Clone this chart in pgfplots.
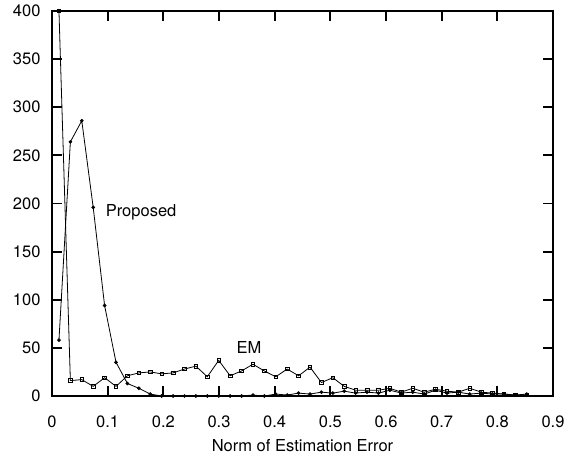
\documentclass[border=0pt]{standalone}
\usepackage{fontspec}
\setmainfont{TeX Gyre Heros}
\usepackage{pgfplots}
\pgfplotsset{compat=1.18}
\usepackage{pgfplotstable}

% histogram of estimation error norms, bins ~0.0205 wide
\pgfplotstableread{
x       y
0.0125  58
0.0330  264
0.0535  286
0.0740  196
0.0945  94
0.1150  35
0.1355  13
0.1560  8
0.1765  2
0.1970  0
0.2175  0
0.2380  0
0.2585  0
0.2790  0
0.2995  0
0.3200  0
0.3405  0
0.3610  1
0.3815  0
0.4020  2
0.4225  1
0.4430  3
0.4635  2
0.4840  4
0.5045  3
0.5250  5
0.5455  3
0.5660  4
0.5865  3
0.6070  6
0.6275  3
0.6480  4
0.6685  2
0.6890  6
0.7095  3
0.7300  4
0.7505  2
0.7710  3
0.7915  2
0.8120  2
0.8325  1
0.8530  2
}\proposed

\pgfplotstableread{
x       y
0.0125  400
0.0330  16
0.0535  17
0.0740  10
0.0945  19
0.1150  10
0.1355  21
0.1560  24
0.1765  25
0.1970  23
0.2175  24
0.2380  28
0.2585  31
0.2790  20
0.2995  37
0.3200  21
0.3405  26
0.3610  33
0.3815  26
0.4020  20
0.4225  28
0.4430  21
0.4635  30
0.4840  14
0.5045  19
0.5250  10
0.5455  6
0.5660  6
0.5865  6
0.6070  8
0.6275  4
0.6480  8
0.6685  4
0.6890  7
0.7095  5
0.7300  4
0.7505  8
0.7710  4
0.7915  3
0.8120  2
0.8325  1
0.8530  1
}\em

\begin{document}
\begin{tikzpicture}
\begin{axis}[
  name=ax,
  scale only axis,
  width=501pt, height=385pt,
  xmin=0, xmax=0.9, ymin=0, ymax=400,
  xtick={0,0.1,...,0.9},
  ytick={0,50,...,400},
  xticklabel style={/pgf/number format/fixed, /pgf/number format/precision=1},
  /pgf/number format/assume math mode=true,
  tick align=inside,
  major tick length=10pt,
  every tick/.style={line width=1.8pt, black},
  axis line style={line width=1.8pt},
  tick label style={font=\fontsize{16.5}{19}\selectfont},
  label style={font=\fontsize{16.5}{19}\selectfont},
  xlabel={Norm of Estimation Error},
  xlabel style={yshift=-5pt},
  xticklabel style={yshift=-16pt},
  yticklabel style={xshift=-8pt},
  clip=true,
]
\addplot[black, line width=0.8pt, mark=*, mark size=1.4pt] table {\proposed};
\addplot[black, line width=0.8pt, mark=square, mark size=1.8pt,
  mark options={line width=0.7pt}] table {\em};
\node[font=\fontsize{16.5}{19}\selectfont] at (axis cs:0.160,191) {Proposed};
\node[font=\fontsize{16.5}{19}\selectfont] at (axis cs:0.354,50) {EM};
\end{axis}
\path (ax.south west) ++(-52pt,-59pt) rectangle ++(571pt,455pt);
\end{tikzpicture}
\end{document}
